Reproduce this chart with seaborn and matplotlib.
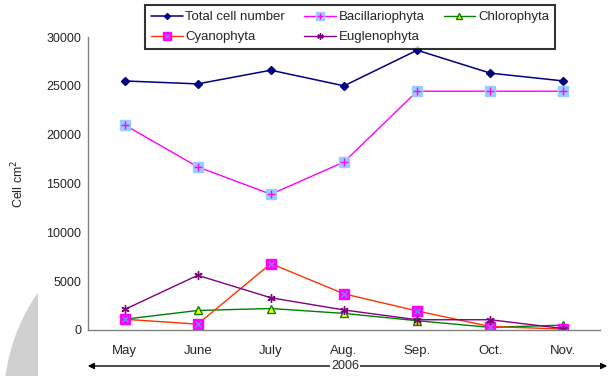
import numpy as np
import pandas as pd
import matplotlib
matplotlib.use("Agg")
import matplotlib.pyplot as plt
import seaborn as sns
from matplotlib.patches import Ellipse, Rectangle, FancyArrowPatch

months = ["May", "June", "July", "Aug.", "Sep.", "Oct.", "Nov."]
total = [25500, 25200, 26600, 25000, 28650, 26300, 25500]
bacillariophyta = [21000, 16700, 13900, 17200, 24450, 24450, 24450]
chlorophyta = [1100, 2000, 2200, 1700, 950, 270, 500]
cyanophyta = [1100, 600, 6800, 3700, 1950, 350, 100]
euglenophyta = [2100, 5600, 3300, 2050, 1050, 1050, 150]
yticks = [0, 5000, 10000, 15000, 20000, 25000, 30000]

sns.set_style("white")
plt.rcParams['font.family'] = ['Liberation Sans', 'DejaVu Sans']

fig = plt.figure(figsize=(6.13, 3.76), dpi=100)
ax = fig.add_axes([88/613, 1 - 330/376, 512/613, 293/376])

x = np.arange(len(months))

# Total cell number
h_total, = ax.plot(x, total, color="#000080", lw=1.1, marker="D", ms=4,
                   mfc="#000080", mec="#000080")
# Bacillariophyta: light blue square with magenta plus
h_bac1, = ax.plot(x, bacillariophyta, color="#FF00FF", lw=1.0, marker="s", ms=7,
                  mfc="#99CCFF", mec="#99CCFF")
h_bac2, = ax.plot(x, bacillariophyta, ls="none", marker="+", ms=6, mec="#FF00FF", mew=1)
# Chlorophyta
h_chl, = ax.plot(x, chlorophyta, color="#008000", lw=1.0, marker="^", ms=6,
                 mfc="#FFFF00", mec="#008000")
# Cyanophyta: magenta square with blue x
h_cy1, = ax.plot(x, cyanophyta, color="#FF3300", lw=1.0, marker="s", ms=7,
                 mfc="#FF00FF", mec="#FF00FF")
h_cy2, = ax.plot(x, cyanophyta, ls="none", marker="x", ms=4, mec="#6699FF", mew=0.8)
# Euglenophyta
h_eug, = ax.plot(x, euglenophyta, color="#800080", lw=1.0, marker=(6, 2, 0), ms=6,
                 mec="#800080", mew=1)

ax.set_xlim(-0.5, len(months) - 0.5)
ax.set_ylim(0, 30000)
ax.set_yticks(yticks)
ax.set_yticklabels([str(v) for v in yticks], fontsize=9)
ax.set_xticks(x)
ax.set_xticklabels(months, fontsize=9.5)
ax.set_xticks(np.arange(-0.5, len(months), 1), minor=True)
ax.tick_params(axis="x", which="major", length=0, pad=11)
ax.tick_params(axis="x", which="minor", length=5, direction="out", color="#808080")
ax.tick_params(axis="y", length=4, direction="out", color="#808080", pad=1)
sns.despine(ax=ax)
for s in ["left", "bottom"]:
    ax.spines[s].set_color("#808080")
    ax.spines[s].set_linewidth(1.0)
ax.set_ylabel("Cell cm$^{2}$", fontsize=9)
ax.yaxis.set_label_coords(-0.12, 0.5)

# legend (row-wise order)
handles = [h_total, (h_cy1, h_cy2), (h_bac1, h_bac2), h_eug, h_chl]
labels = ["Total cell number", "Cyanophyta", "Bacillariophyta", "Euglenophyta", "Chlorophyta"]
leg = fig.legend(handles, labels, loc="upper center", bbox_to_anchor=(350/613, 1 - 5/376),
                 ncol=3, fontsize=9.5, frameon=True, fancybox=False, handlelength=2.4,
                 handletextpad=0.2, columnspacing=1.45, labelspacing=0.6,
                 borderpad=0.45, borderaxespad=0, markerscale=0.75)
leg.get_frame().set_edgecolor("black")
leg.get_frame().set_linewidth(1.5)

# year arrow
fig.add_artist(FancyArrowPatch((85/613, 1 - 366/376), (610/613, 1 - 366/376),
                               transform=fig.transFigure, arrowstyle="<|-|>",
                               mutation_scale=9, lw=1.0, color="black"))
fig.text(345/613, 1 - 366/376, "2006", ha="center", va="center", fontsize=9,
         bbox=dict(facecolor="white", edgecolor="none", pad=1))

# grey disk fragment in lower-left corner
disk = Ellipse((191/613, 1 - 400/376), 2*187/613, 2*187/376, transform=fig.transFigure,
               facecolor="#D0D0D0", edgecolor="none", zorder=-5)
clip = Rectangle((0, 0), 38/613, 1, transform=fig.transFigure)
disk.set_clip_path(clip)
fig.add_artist(disk)

fig.savefig("out.png", dpi=100)
